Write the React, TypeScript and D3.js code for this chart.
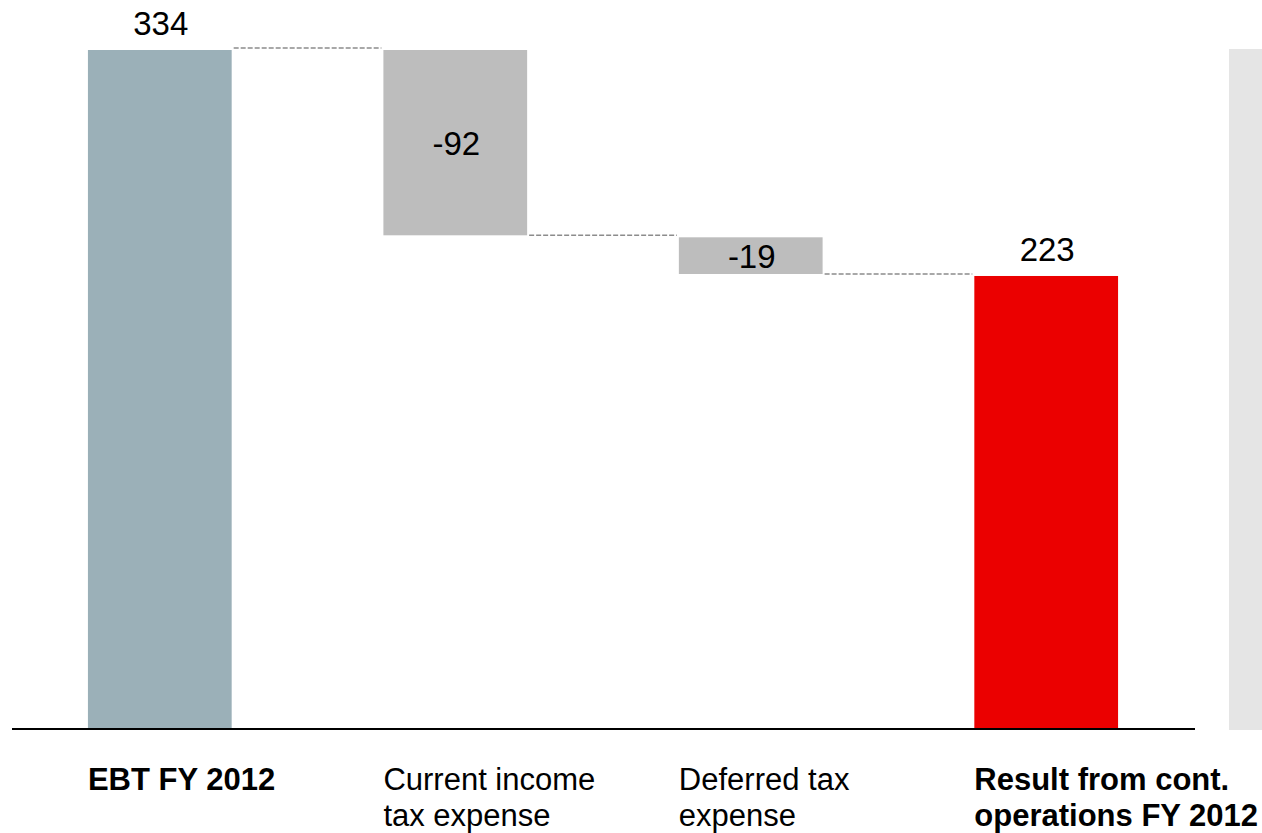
import React from "react";
import * as d3 from "d3";

const categories = ["EBT FY 2012", "Current income tax expense", "Deferred tax expense", "Result from cont. operations FY 2012"];
const labelLines = [["EBT FY 2012"], ["Current income", "tax expense"], ["Deferred tax", "expense"], ["Result from cont.", "operations FY 2012"]];
const values = [334, -92, -19, 223];
const kinds = ["total", "delta", "delta", "total"];
const valueLabels = ["334", "-92", "-19", "223"];

const W = 1262;
const H = 833;
const FONT = "'Liberation Sans', Arial, Helvetica, sans-serif";
const COLORS: Record<string, string> = { first: "#9bb0b8", delta: "#bdbdbd", last: "#eb0000" };

export default function App() {
  const x = d3.scaleBand<string>().domain(categories).range([12, 1194]).paddingInner(0.5135).paddingOuter(0.257);
  const y = d3.scaleLinear().domain([0, 334]).range([728, 48]);

  let running = 0;
  const segs = values.map((v, i) => {
    let lo: number, hi: number, end: number;
    if (kinds[i] === "total") {
      lo = 0; hi = v; end = v;
    } else {
      const start = running;
      end = running + v;
      lo = Math.min(start, end); hi = Math.max(start, end);
    }
    running = end;
    const color = i === 0 ? COLORS.first : i === values.length - 1 ? COLORS.last : COLORS.delta;
    return { cat: categories[i], lo, hi, end, color, kind: kinds[i], label: valueLabels[i], lines: labelLines[i], bold: kinds[i] === "total" };
  });

  const bw = x.bandwidth();

  return (
    <div style={{ position: "absolute", left: 0, top: 0 }}>
      <svg width={W} height={H} style={{ display: "block", fontFamily: FONT }}>
        <rect x={1229} y={49} width={40} height={681} fill="#e5e5e5" />
        {segs.map((s, i) => {
          const x0 = x(s.cat)!;
          const top = y(s.hi) + 2;
          const bottom = y(s.lo);
          return <rect key={"b" + i} x={x0} y={top} width={bw} height={bottom - top} fill={s.color} />;
        })}
        {segs.slice(0, -1).map((s, i) => {
          const x1 = x(s.cat)! + bw + 2;
          const x2 = x(segs[i + 1].cat)! - 2;
          const yy = y(s.end);
          return <line key={"c" + i} x1={x1} x2={x2} y1={yy} y2={yy} stroke="#8c8c8c" strokeWidth={1.5} strokeDasharray="5,2" />;
        })}
        <line x1={12} x2={1195} y1={729} y2={729} stroke="#000" strokeWidth={2} />
        {segs.map((s, i) => {
          const cx = x(s.cat)! + bw / 2;
          const yy = s.kind === "total" ? y(s.hi) + 2 - 15 : (y(s.hi) + 2 + y(s.lo)) / 2 + 12;
          return (
            <text key={"v" + i} x={cx + 1} y={yy} textAnchor="middle" fontSize={33} fill="#000">
              {s.label}
            </text>
          );
        })}
        {segs.map((s, i) => (
          <text key={"l" + i} x={x(s.cat)!} y={790} fontSize={31} fontWeight={s.bold ? "bold" : "normal"} fill="#000">
            {s.lines.map((ln, j) => (
              <tspan key={j} x={x(s.cat)!} dy={j === 0 ? 0 : 36}>
                {ln}
              </tspan>
            ))}
          </text>
        ))}
      </svg>
    </div>
  );
}
